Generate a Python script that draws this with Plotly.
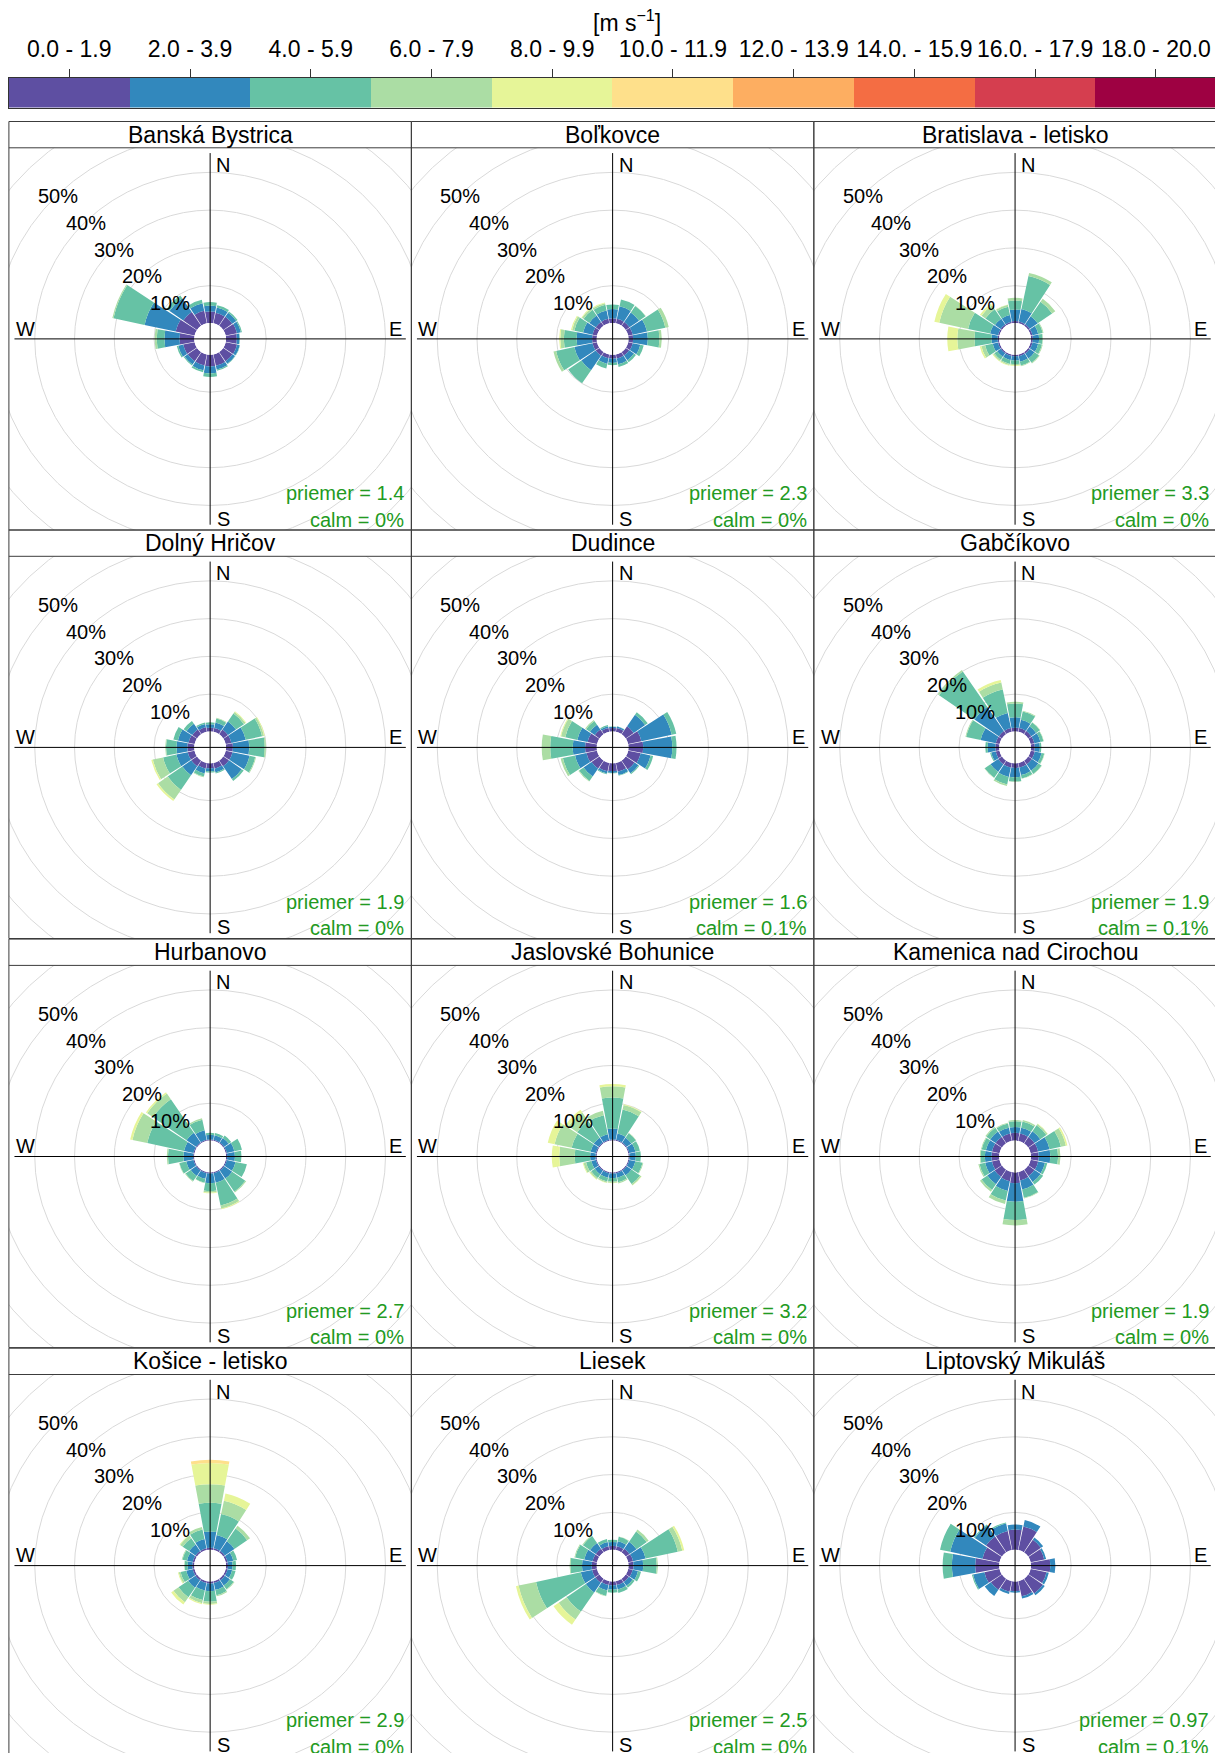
import plotly.graph_objects as go

# page geometry (reference pixels); the html page body has an 8px margin
PAGE_W, PAGE_H = 1223, 1753
OFFSET = 8.0
W, H = PAGE_W - OFFSET, PAGE_H - OFFSET

# ---------------- data ----------------
stations = ["Banská Bystrica", "Boľkovce", "Bratislava - letisko",
            "Dolný Hričov", "Dudince", "Gabčíkovo",
            "Hurbanovo", "Jaslovské Bohunice", "Kamenica nad Cirochou",
            "Košice - letisko", "Liesek", "Liptovský Mikuláš"]
priemer = ["1.4", "2.3", "3.3", "1.9", "1.6", "1.9", "2.7", "3.2", "1.9", "2.9", "2.5", "0.97"]
calm = ["0%", "0%", "0%", "0%", "0.1%", "0.1%", "0%", "0%", "0%", "0%", "0%", "0.1%"]
directions = [0.0, 22.5, 45.0, 67.5, 90.0, 112.5, 135.0, 157.5,
              180.0, 202.5, 225.0, 247.5, 270.0, 292.5, 315.0, 337.5]
speed_labels = ["0.0 - 1.9", "2.0 - 3.9", "4.0 - 5.9", "6.0 - 7.9", "8.0 - 9.9",
                "10.0 - 11.9", "12.0 - 13.9", "14.0. - 15.9", "16.0. - 17.9", "18.0 - 20.0"]
speed_colors = ["#5E4FA2", "#3288BD", "#66C2A5", "#ABDDA4", "#E6F598",
                "#FEE08B", "#FDAE61", "#F46D43", "#D53E4F", "#9E0142"]
ring_values = [10, 20, 30, 40, 50, 60]

# frequency (%) per direction (rows, same order as `directions`) and speed class (columns)
banska_bystrica = [
    [3.0, 1.5, 0.9], [2.8, 1.4, 0.6], [2.8, 1.3, 0.4], [3.0, 1.0, 0.3],
    [2.8, 0.7, 0.1], [3.0, 0.7, 0.1], [2.9, 0.8, 0.1], [3.0, 1.0, 0.3],
    [3.0, 1.8, 0.9], [2.9, 1.3, 0.5], [2.9, 1.0, 0.3], [3.0, 1.3, 0.4],
    [3.8, 3.9, 2.0, 0.5], [5.0, 8.2, 8.2, 0.3], [4.3, 4.3, 0.9], [3.3, 2.0, 0.9]]
bolkovce = [
    [1.2, 2.4, 1.2], [1.2, 3.3, 1.8], [1.2, 3.0, 2.0, 0.1], [1.2, 3.8, 4.8, 0.9],
    [1.2, 3.8, 3.0, 0.6], [1.2, 2.0, 0.9], [1.1, 1.5, 0.6], [1.1, 1.5, 0.7],
    [1.0, 1.1, 0.6], [1.0, 1.5, 1.2], [1.2, 4.5, 4.1], [1.2, 4.8, 4.8, 0.7],
    [1.2, 4.0, 3.3, 0.9, 0.3], [1.2, 2.5, 2.3, 0.6, 0.3], [1.2, 2.0, 1.8, 0.5, 0.2], [1.2, 2.2, 1.5, 0.4, 0.2]]
bratislava = [
    [0.5, 3.0, 2.3, 0.7], [0.5, 3.3, 8.7, 0.8], [0.5, 2.5, 4.5, 1.0], [0.5, 1.5, 1.2, 0.2],
    [0.5, 1.6, 0.9, 0.1], [0.5, 1.5, 1.0, 0.2], [0.5, 1.5, 1.4, 0.2], [0.5, 1.4, 1.0, 0.2],
    [0.4, 1.1, 0.9, 0.3, 0.2], [0.4, 1.1, 1.0, 0.3, 0.2], [0.4, 1.1, 0.9, 0.4, 0.2], [0.4, 1.4, 2.0, 1.0, 0.4],
    [0.4, 1.6, 4.4, 4.4, 2.6], [0.4, 2.1, 5.8, 7.6, 1.3], [0.4, 1.8, 3.0, 1.2, 0.5], [0.4, 1.8, 2.2, 0.5, 0.1]]
dolny_hricov = [
    [1.0, 0.9, 0.5], [1.0, 1.5, 1.0, 0.2], [1.5, 2.5, 2.5, 0.5, 0.2], [1.5, 3.8, 4.3, 0.5, 0.2],
    [1.8, 4.2, 4.0, 0.3], [1.8, 4.5, 1.5, 0.2], [1.8, 4.0, 0.6], [1.5, 1.0, 0.3],
    [1.3, 0.8, 0.3], [1.5, 1.3, 0.8, 0.2], [1.8, 2.8, 4.6, 3.0, 0.5], [1.8, 3.0, 3.5, 2.7, 0.4],
    [1.8, 2.8, 2.7, 0.2], [1.6, 2.8, 1.2], [1.5, 1.8, 0.9], [1.2, 0.9, 0.4]]
dudince = [
    [0.9, 0.3, 0.1], [1.0, 0.4, 0.1], [2.5, 3.6, 0.8], [3.5, 8.0, 1.2],
    [3.8, 7.5, 1.1], [3.3, 2.6, 0.7], [2.8, 1.2, 0.3], [2.3, 0.9, 0.2],
    [2.0, 0.5, 0.1], [2.2, 0.6, 0.2], [2.5, 2.5, 1.4, 0.2], [2.8, 3.0, 3.2, 0.6],
    [3.0, 3.2, 5.8, 2.2], [2.5, 2.7, 3.2, 1.1, 0.2], [1.5, 1.5, 1.2, 0.3], [1.0, 0.5, 0.3]]
gabcikovo = [
    [1.0, 2.7, 3.5, 0.5], [1.0, 2.2, 2.2, 0.2], [1.0, 1.5, 1.2, 0.1], [1.0, 1.6, 0.8, 0.1],
    [1.0, 1.3, 0.4], [1.1, 1.8, 0.7, 0.1], [1.2, 2.0, 1.0, 0.1], [1.2, 2.0, 0.9, 0.1],
    [1.2, 2.4, 1.1, 0.1], [1.2, 2.5, 2.0, 0.4], [1.2, 2.4, 1.8, 0.1], [1.0, 1.2, 0.3],
    [1.0, 2.0, 0.6], [1.0, 4.0, 3.8, 0.2], [1.0, 7.6, 11.1, 0.4], [1.0, 4.0, 6.2, 1.8, 0.7]]
hurbanovo = [
    [0.3, 1.2, 0.5], [0.3, 1.2, 0.6], [0.3, 1.4, 0.8], [0.3, 2.0, 2.0],
    [0.3, 2.0, 1.7], [0.3, 2.3, 3.0], [0.3, 2.5, 4.1, 0.3], [0.3, 2.5, 6.0, 0.8, 0.2],
    [0.3, 2.5, 2.0, 0.4, 0.2], [0.3, 1.5, 1.0, 0.1], [0.3, 1.7, 1.6, 0.2], [0.3, 1.9, 1.8, 0.1],
    [0.3, 2.5, 4.0, 0.3], [0.3, 2.5, 9.7, 3.9, 0.6], [0.3, 3.0, 10.5, 1.8, 0.4], [0.3, 2.5, 2.8, 0.4]]
jaslovske_bohunice = [
    [0.3, 2.8, 8.0, 2.9, 0.6], [0.3, 1.7, 6.3, 1.2, 0.2], [0.3, 1.5, 1.4, 0.1], [0.3, 1.6, 1.2],
    [0.3, 1.6, 1.3], [0.3, 1.6, 1.9, 0.2], [0.3, 1.5, 2.7, 0.4, 0.1], [0.3, 1.2, 1.2, 0.3],
    [0.3, 1.2, 0.9, 0.3, 0.1], [0.3, 1.2, 1.0, 0.3, 0.1], [0.3, 1.2, 1.1, 0.4, 0.2], [0.3, 1.2, 1.4, 0.7, 0.2],
    [0.3, 1.4, 4.0, 4.0, 1.9], [0.3, 1.4, 5.0, 4.5, 1.8], [0.3, 1.5, 5.2, 2.7, 0.8], [0.3, 1.5, 5.0, 1.2]]
kamenica = [
    [2.0, 1.5, 1.5, 0.3], [2.0, 1.5, 1.6, 0.4], [2.0, 1.8, 1.9, 0.4, 0.1], [2.0, 3.0, 3.0, 1.3, 0.4],
    [2.0, 3.0, 2.0, 0.6], [2.0, 1.8, 0.6], [2.0, 1.9, 0.8], [2.2, 2.4, 2.2, 0.2],
    [2.8, 4.8, 4.7, 1.4], [2.4, 2.6, 2.5, 0.9], [2.3, 2.3, 1.8, 0.5], [2.0, 1.8, 1.5, 0.3],
    [2.0, 1.7, 1.1, 0.2], [2.0, 1.6, 1.1, 0.2], [2.0, 1.7, 1.2, 0.3], [2.0, 1.5, 1.1, 0.2]]
kosice = [
    [0.5, 4.2, 7.4, 4.8, 5.5, 0.8], [0.5, 3.5, 5.5, 3.5, 1.9], [0.5, 3.0, 4.0, 0.9], [0.5, 1.5, 1.0],
    [0.5, 1.2, 0.9], [0.5, 1.2, 0.9], [0.5, 1.6, 1.2, 0.2], [0.5, 1.8, 1.4, 0.3],
    [0.5, 2.0, 2.7, 0.6, 0.2], [0.5, 2.0, 2.5, 0.8, 0.3], [0.5, 2.3, 3.0, 1.6, 0.7], [0.5, 1.7, 1.5, 0.5, 0.2],
    [0.5, 1.2, 0.8, 0.1], [0.5, 1.5, 1.2, 0.2], [0.5, 2.0, 2.0, 0.8, 0.2], [0.5, 2.4, 2.5, 0.7]]
liesek = [
    [1.0, 1.0, 0.6], [1.0, 1.3, 1.2, 0.1], [1.2, 2.2, 3.2, 0.6], [1.3, 3.3, 8.5, 1.2, 0.5],
    [1.3, 2.5, 3.5, 0.3], [1.2, 1.4, 0.8], [1.0, 1.2, 0.6], [1.0, 1.2, 0.9],
    [1.0, 1.1, 0.8], [1.0, 1.5, 1.4, 0.1], [1.3, 3.0, 6.0, 2.5, 1.6], [1.3, 3.0, 11.8, 4.6, 0.7],
    [1.3, 2.5, 3.0, 0.2], [1.2, 2.2, 2.4, 0.2], [1.2, 1.8, 2.2, 0.2], [1.0, 1.1, 0.8]]
liptovsky_mikulas = [
    [5.2, 1.3], [6.2, 1.7], [4.0, 0.7], [3.6, 0.5],
    [5.0, 1.3], [4.2, 0.6], [4.6, 0.6], [4.0, 0.6],
    [2.5, 0.4], [2.8, 0.6], [3.5, 1.9], [4.0, 3.0, 0.3],
    [6.2, 6.0, 2.4], [4.5, 8.5, 2.7], [5.0, 3.5, 0.3], [5.0, 2.0, 0.3]]

station_rows = [banska_bystrica, bolkovce, bratislava, dolny_hricov, dudince, gabcikovo,
                hurbanovo, jaslovske_bohunice, kamenica, kosice, liesek, liptovsky_mikulas]

# ---------------- geometry / style ----------------
FONT = "Liberation Sans, Arial, Helvetica, sans-serif"
PANEL_X0 = 8.9 - OFFSET
PANEL_W = 402.47
ROW_TOP = [v - OFFSET for v in (121.5, 530.0, 939.1, 1348.2)]
STRIP_H = 26.3
PLOT_H = 382.2
U = 50.6          # half range of each panel (percent units)
OFF = 4.1         # size of centre hole (percent units)
LINE_END = 49.2
SX = PANEL_W / (2 * U)
SY = PLOT_H / (2 * U)
SP = (SX * SY) ** 0.5
P = 186.0
HOLE_PX = OFF * SP
RMAX = (P - HOLE_PX) / SP
BAR_W = 21.0
FRAME = "#3C3C3C"
GREEN = "#229A22"
F_TITLE, F_KEY, F_SMALL = 23, 23, 20

fig = go.Figure()
shapes, annotations = [], []
layout = {}

for i, name in enumerate(stations):
    k = i + 1
    sfx = "" if k == 1 else str(k)
    row, col = divmod(i, 3)
    x0 = PANEL_X0 + col * PANEL_W
    x1 = x0 + PANEL_W
    st = ROW_TOP[row]
    sb = st + STRIP_H
    pb = sb + PLOT_H
    cx = (x0 + x1) / 2
    cy = (sb + pb) / 2
    vb = min(pb, H)

    xr, yr = "x" + sfx, "y" + sfx
    layout["xaxis" + sfx] = dict(domain=[max(x0, 0) / W, x1 / W],
                                 range=[-U + (max(x0, 0) - x0) / SX, U], visible=False,
                                 fixedrange=True, anchor=yr)
    layout["yaxis" + sfx] = dict(domain=[1 - vb / H, 1 - sb / H], range=[U - (vb - sb) / SY, U],
                                 visible=False, fixedrange=True, anchor=xr)
    fig.add_trace(go.Scatter(x=[0], y=[0], mode="markers", marker=dict(opacity=0),
                             xaxis=xr, yaxis=yr, hoverinfo="skip", showlegend=False))

    pol = "polar" + sfx
    layout[pol] = dict(
        domain=dict(x=[(cx - P) / W, (cx + P) / W], y=[1 - (cy + P) / H, 1 - (cy - P) / H]),
        hole=HOLE_PX / P, bgcolor="rgba(0,0,0,0)",
        radialaxis=dict(range=[0, RMAX], visible=False),
        angularaxis=dict(rotation=90, direction="clockwise", visible=False))

    rows = station_rows[i]
    for b in range(len(speed_colors)):
        r = [rw[b] if b < len(rw) else 0.0 for rw in rows]
        if max(r) == 0:
            continue
        fig.add_trace(go.Barpolar(r=r, theta=directions, width=BAR_W, subplot=pol,
                                  marker=dict(color=speed_colors[b], line=dict(width=0)),
                                  name=speed_labels[b], showlegend=False, hoverinfo="skip"))

    for v in ring_values:
        rr = OFF + v
        shapes.append(dict(type="circle", xref=xr, yref=yr, x0=-rr, x1=rr, y0=-rr, y1=rr,
                           line=dict(color="#D9D9D9", width=1), layer="below"))
    shapes.append(dict(type="line", xref=xr, yref=yr, x0=-LINE_END, x1=LINE_END, y0=0, y1=0,
                       line=dict(color="black", width=1), layer="above"))
    shapes.append(dict(type="line", xref=xr, yref=yr, x0=0, x1=0, y0=-LINE_END, y1=LINE_END,
                       line=dict(color="black", width=1), layer="above"))

    shapes.append(dict(type="rect", xref="paper", yref="paper", x0=x0 / W, x1=x1 / W,
                       y0=1 - pb / H, y1=1 - st / H, line=dict(color=FRAME, width=1), layer="above"))
    shapes.append(dict(type="line", xref="paper", yref="paper", x0=x0 / W, x1=x1 / W,
                       y0=1 - sb / H, y1=1 - sb / H, line=dict(color=FRAME, width=1), layer="above"))

    annotations.append(dict(text=name, xref="paper", yref="paper", x=cx / W, y=1 - (st + STRIP_H / 2) / H,
                            xanchor="center", yanchor="middle", showarrow=False,
                            font=dict(size=F_TITLE, color="black", family=FONT)))
    for txt, ax, ay in [("N", 3.3, 46.1), ("S", 3.3, -47.6), ("W", -46.5, 2.7), ("E", 46.7, 2.7)]:
        annotations.append(dict(text=txt, xref=xr, yref=yr, x=ax, y=ay, showarrow=False,
                                xanchor="center", yanchor="middle",
                                font=dict(size=F_SMALL, color="black", family=FONT)))
    for v in ring_values[:5]:
        d = (OFF + v) * 0.7071
        annotations.append(dict(text=f"{v}%", xref=xr, yref=yr, x=-d, y=d - 0.5, showarrow=False,
                                xanchor="center", yanchor="middle",
                                font=dict(size=F_SMALL, color="black", family=FONT)))
    annotations.append(dict(text=f"priemer = {priemer[i]}", xref=xr, yref=yr, x=49.3, y=-40.9,
                            showarrow=False, xanchor="right", yanchor="middle",
                            font=dict(size=F_SMALL, color=GREEN, family=FONT)))
    annotations.append(dict(text=f"calm = {calm[i]}", xref=xr, yref=yr, x=49.3, y=-47.9,
                            showarrow=False, xanchor="right", yanchor="middle",
                            font=dict(size=F_SMALL, color=GREEN, family=FONT)))

# ---------------- colour key ----------------
n = len(speed_labels)
fig.add_trace(go.Heatmap(z=[list(range(n))], x=list(range(n)), y=[0],
                         colorscale=[[j / (n - 1), c] for j, c in enumerate(speed_colors)],
                         zmin=0, zmax=n - 1, showscale=False, hoverinfo="skip",
                         xaxis="x13", yaxis="y13"))
layout["xaxis13"] = dict(domain=[(8.9 - OFFSET) / W, (1216.3 - OFFSET) / W], range=[-0.5, n - 0.5],
                         side="top", tickvals=list(range(n)), ticktext=speed_labels, ticks="outside",
                         ticklen=8, tickwidth=1, tickcolor="#333333", showline=True, mirror=True,
                         linecolor="#333333", linewidth=1, showgrid=False, zeroline=False,
                         fixedrange=True, anchor="y13", ticklabelstandoff=3,
                         tickfont=dict(size=F_KEY, color="black", family=FONT))
layout["yaxis13"] = dict(domain=[1 - (107.5 - OFFSET) / H, 1 - (78.0 - OFFSET) / H], range=[-0.5, 0.5],
                         showticklabels=False, ticks="", showline=True, mirror=True,
                         linecolor="#333333", linewidth=1, showgrid=False, zeroline=False,
                         fixedrange=True, anchor="x13")
annotations.append(dict(text="[m s<sup>\u22121</sup>]", xref="paper", yref="paper",
                        x=(627 - OFFSET) / W, y=1 - (21 - OFFSET) / H, xanchor="center", yanchor="middle",
                        showarrow=False, font=dict(size=23, color="black", family=FONT)))

fig.update_layout(width=W, height=H, margin=dict(l=0, r=0, t=0, b=0),
                  paper_bgcolor="white", plot_bgcolor="rgba(0,0,0,0)",
                  showlegend=False, shapes=shapes, annotations=annotations,
                  font=dict(family=FONT, color="black"), **layout)

fig.write_html("out.html")
